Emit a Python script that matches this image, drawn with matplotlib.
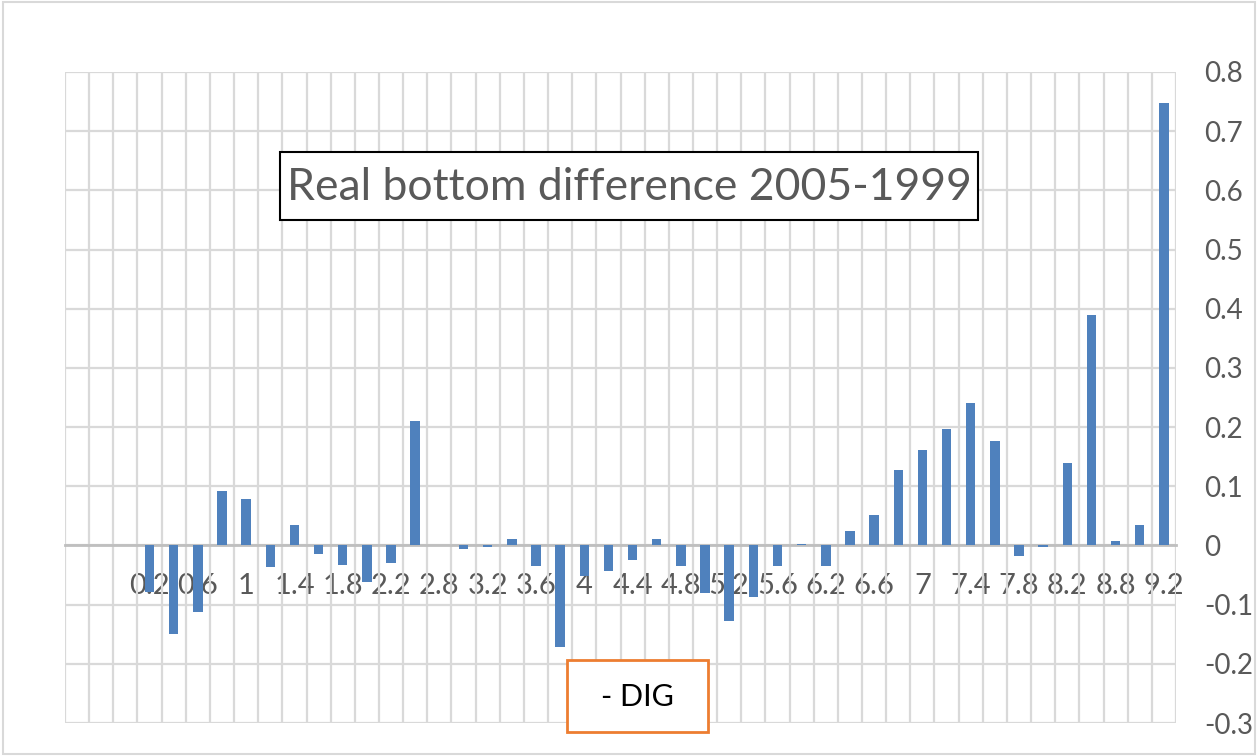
import numpy as np
import matplotlib
matplotlib.use("Agg")
import matplotlib.pyplot as plt
from matplotlib.patches import Rectangle

plt.rcParams['font.family'] = ['Lato', 'DejaVu Sans']

# categories (only every other label is shown on the axis)
categories = ['', '', '', '0.2', '0.4', '0.6', '0.8', '1', '1.2', '1.4', '1.6', '1.8',
              '2', '2.2', '2.4', '2.8', '3', '3.2', '3.4', '3.6', '3.8', '4', '4.2',
              '4.4', '4.6', '4.8', '5', '5.2', '5.4', '5.6', '5.8', '6.2', '6.4', '6.6',
              '6.8', '7', '7.2', '7.4', '7.6', '7.8', '8', '8.2', '8.4', '8.8', '9', '9.2']
values = [np.nan, np.nan, np.nan, -0.079, -0.149, -0.112, 0.092, 0.078, -0.037, 0.034,
          -0.014, -0.033, -0.062, -0.029, 0.211, 0.0, -0.006, -0.002, 0.011, -0.035,
          -0.172, -0.052, -0.043, -0.025, 0.011, -0.034, -0.080, -0.127, -0.087, -0.035,
          0.003, -0.034, 0.024, 0.052, 0.128, 0.162, 0.196, 0.240, 0.176, -0.017,
          -0.002, 0.140, 0.389, 0.007, 0.034, 0.747]
y_ticks = [-0.3, -0.2, -0.1, 0, 0.1, 0.2, 0.3, 0.4, 0.5, 0.6, 0.7, 0.8]
title = "Real bottom difference 2005-1999"
note = "- DIG"

W, H = 1258, 756
grey_txt = '#595959'
fig = plt.figure(figsize=(W / 100, H / 100), dpi=100)
ax = fig.add_axes([65 / W, 33 / H, 1111 / W, 651 / H])

x = np.arange(len(categories))
ax.bar(x, values, width=0.39, color='#4F81BD', zorder=3)

ax.set_xlim(-0.5, len(categories) - 0.5)
ax.set_ylim(-0.3, 0.8)

# vertical gridlines at category boundaries
ax.set_xticks(np.arange(-0.5, len(categories), 1), minor=True)
ax.grid(True, which='minor', axis='x', color='#D9D9D9', linewidth=1.6)
ax.grid(True, which='major', axis='y', color='#D9D9D9', linewidth=1.6)
ax.tick_params(axis='x', which='minor', length=0)

ax.set_xticks(x[1::2])
ax.set_xticklabels([categories[i] for i in x[1::2]])
ax.tick_params(axis='x', which='major', length=0, pad=20, labelsize=21, labelcolor=grey_txt)

ax.yaxis.tick_right()
ax.set_yticks(y_ticks)
ax.set_yticklabels(['{:g}'.format(v) for v in y_ticks])
ax.tick_params(axis='y', length=0, pad=20, labelsize=20, labelcolor=grey_txt)
for lab in ax.get_yticklabels():
    lab.set_horizontalalignment('left')

for s in ['top', 'left', 'right']:
    ax.spines[s].set_visible(False)
ax.spines['bottom'].set_position(('data', 0))
ax.spines['bottom'].set_color('#BFBFBF')
ax.spines['bottom'].set_linewidth(2)
ax.spines['bottom'].set_zorder(2.6)
ax.set_axisbelow(True)


def box(x0, y0, x1, y1, edge, lw):
    fig.patches.append(Rectangle((x0 / W, 1 - y1 / H), (x1 - x0) / W, (y1 - y0) / H,
                                 transform=fig.transFigure, facecolor='white',
                                 edgecolor=edge, linewidth=lw, zorder=5))


# title box
box(280, 152, 978, 220, 'black', 1.5)
fig.text(629 / W, 1 - 188 / H, title, ha='center', va='center', fontsize=32,
         color=grey_txt, zorder=6)

# note box
box(567, 660, 708, 732, '#ED7D31', 2)
fig.text(637 / W, 1 - 697 / H, note, ha='center', va='center', fontsize=22,
         color='black', zorder=6)

# chart area border
fig.patches.append(Rectangle((0.002, 0.002), 0.996, 0.996, transform=fig.transFigure,
                             fill=False, edgecolor='#D9D9D9', linewidth=1.5))

plt.savefig('out.png', dpi=100)
